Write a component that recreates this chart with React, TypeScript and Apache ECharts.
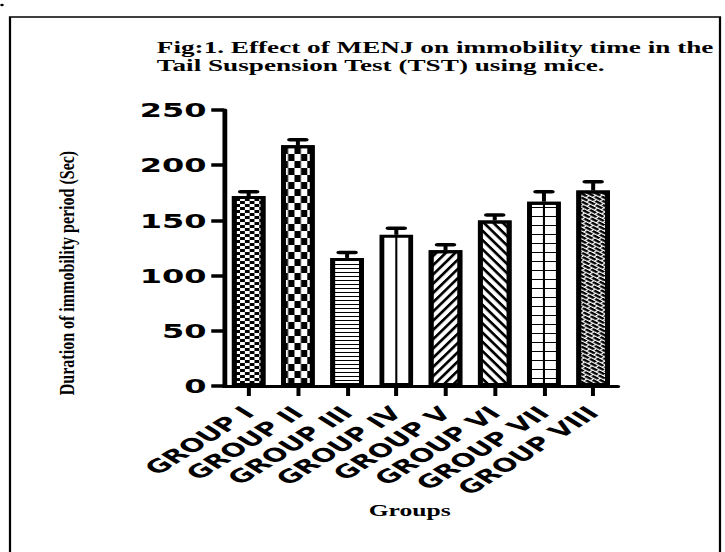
import React, { useEffect, useRef } from "react";
import * as echarts from "echarts";

// ---- data ----
const categories = ["GROUP I", "GROUP II", "GROUP III", "GROUP IV", "GROUP V", "GROUP VI", "GROUP VII", "GROUP VIII"];
const meanValues = [172, 218, 116, 137, 123, 150, 167, 177];
const semValues = [4, 5, 5, 6, 5, 5, 9, 8];
const yMin = 0;
const yMax = 250;
const yInterval = 50;
const titleText = "Fig:1. Effect of MENJ on immobility time in the\nTail Suspension Test (TST) using mice.";
const yAxisTitle = "Duration of immobility period (Sec)";
const xAxisTitle = "Groups";
// groups whose pattern has a single vertical centre line
const centreLineGroups = ["GROUP IV", "GROUP VII"];

// ---- layout (the figure is horizontally stretched) ----
const CHART_W = 453;
const CHART_H = 552;
const STRETCH = 725 / CHART_W;

const decals: any[] = [
  { symbol: "rect", symbolSize: 1, color: "#000", dashArrayX: [[3, 3], [0, 3, 3, 0]], dashArrayY: [3, 0] },
  { symbol: "rect", symbolSize: 1, color: "#000", dashArrayX: [[4, 4], [0, 4, 4, 0]], dashArrayY: [7, 0] },
  { symbol: "rect", symbolSize: 1, color: "#000", dashArrayX: [40, 0], dashArrayY: [1, 3] },
  null,
  { symbol: "rect", symbolSize: 1, color: "#000", dashArrayX: [40, 0], dashArrayY: [2, 3], rotation: -1.0 },
  { symbol: "rect", symbolSize: 1, color: "#000", dashArrayX: [40, 0], dashArrayY: [2, 3], rotation: 1.0 },
  { symbol: "rect", symbolSize: 1, color: "#000", dashArrayX: [40, 0], dashArrayY: [1, 8] },
  { symbol: "rect", symbolSize: 1, color: "#000", dashArrayX: [[5, 1], [2, 1, 3, 0]], dashArrayY: [2, 1], rotation: 0.7 },
];

export default function App() {
  const ref = useRef<HTMLDivElement>(null);

  useEffect(() => {
    document.body.style.overflow = "hidden";
    const chart = echarts.init(ref.current!, null, { renderer: "svg", width: CHART_W, height: CHART_H });

    const barData = meanValues.map((v, i) => ({
      value: v,
      itemStyle: decals[i] ? { decal: decals[i] } : {},
    }));
    const errData = meanValues.map((v, i) => [i, v, semValues[i]]);
    const lineData = categories
      .map((c, i) => (centreLineGroups.includes(c) ? [i, meanValues[i]] : null))
      .filter((d) => d !== null);

    chart.setOption({
      animation: false,
      title: {
        text: titleText,
        left: 98,
        top: 38,
        padding: 0,
        textStyle: {
          fontFamily: "Liberation Serif",
          fontWeight: "bold",
          fontSize: 17,
          lineHeight: 18,
          color: "#000",
        },
      },
      grid: { left: 140, right: 67, top: 110, bottom: 166, containLabel: false },
      xAxis: {
        type: "category",
        data: categories,
        name: xAxisTitle,
        nameLocation: "middle",
        nameGap: 117,
        nameTextStyle: {
          fontFamily: "Liberation Serif",
          fontWeight: "bold",
          fontSize: 16,
          color: "#000",
          padding: [0, 14, 0, 0],
        },
        axisLine: { show: true, lineStyle: { color: "#000", width: 3 } },
        axisTick: { show: true, alignWithLabel: true, length: 10, lineStyle: { color: "#000", width: 2.5 } },
        axisLabel: {
          interval: 0,
          rotate: 45,
          margin: 24,
          fontFamily: "DejaVu Sans",
          fontWeight: "bold",
          fontSize: 18.5,
          color: "#000",
        },
        splitLine: { show: false },
      },
      yAxis: {
        type: "value",
        min: yMin,
        max: yMax,
        interval: yInterval,
        axisLine: { show: true, lineStyle: { color: "#000", width: 3 } },
        axisTick: { show: true, length: 8, lineStyle: { color: "#000", width: 3.5 } },
        axisLabel: {
          margin: 11,
          fontFamily: "DejaVu Sans",
          fontWeight: "bold",
          fontSize: 20,
          color: "#000",
        },
        splitLine: { show: false },
      },
      graphic: [
        {
          type: "rect",
          shape: { x: 10 / STRETCH, y: 17, width: 710 / STRETCH, height: 560 },
          style: { fill: "none", stroke: "#000", lineWidth: 1.4 },
          z: 0,
        },
        {
          type: "circle",
          shape: { cx: 2 / STRETCH, cy: 5, r: 1.2 },
          style: { fill: "#000" },
        },
        {
          type: "text",
          x: 67 / STRETCH,
          y: 273,
          rotation: Math.PI / 2,
          scaleY: 0.8,
          style: {
            text: yAxisTitle,
            fontFamily: "Liberation Serif",
            fontWeight: "bold",
            fontSize: 16,
            fill: "#000",
            textAlign: "center",
            textVerticalAlign: "middle",
            align: "center",
            verticalAlign: "middle",
          },
        },
      ],
      series: [
        {
          type: "bar",
          data: barData,
          barWidth: 21,
          itemStyle: { color: "#fff", borderColor: "#000", borderWidth: 3 },
          z: 2,
        },
        {
          type: "custom",
          data: lineData,
          encode: { x: 0, y: 1 },
          z: 3,
          renderItem: (params: any, api: any) => {
            const i = api.value(0);
            const v = api.value(1);
            const b = api.coord([i, 0]);
            const t = api.coord([i, v]);
            return {
              type: "line",
              shape: { x1: b[0], y1: b[1], x2: t[0], y2: t[1] },
              style: { stroke: "#000", lineWidth: 1.3 },
            };
          },
        },
        {
          type: "custom",
          data: errData,
          encode: { x: 0, y: 1 },
          z: 4,
          renderItem: (params: any, api: any) => {
            const i = api.value(0);
            const v = api.value(1);
            const e = api.value(2);
            const base = api.coord([i, v]);
            const top = api.coord([i, v + e]);
            return {
              type: "group",
              children: [
                {
                  type: "line",
                  shape: { x1: base[0], y1: base[1], x2: top[0], y2: top[1] },
                  style: { stroke: "#000", lineWidth: 2.5 },
                },
                {
                  type: "line",
                  shape: { x1: top[0] - 5, y1: top[1], x2: top[0] + 5, y2: top[1] },
                  style: { stroke: "#000", lineWidth: 3.5, lineCap: "round" },
                },
              ],
            };
          },
        },
      ],
    });

    return () => chart.dispose();
  }, []);

  return (
    <div
      ref={ref}
      style={{
        position: "absolute",
        left: 0,
        top: 0,
        width: CHART_W,
        height: CHART_H,
        transform: `scaleX(${STRETCH})`,
        transformOrigin: "0 0",
        background: "#fff",
      }}
    />
  );
}
